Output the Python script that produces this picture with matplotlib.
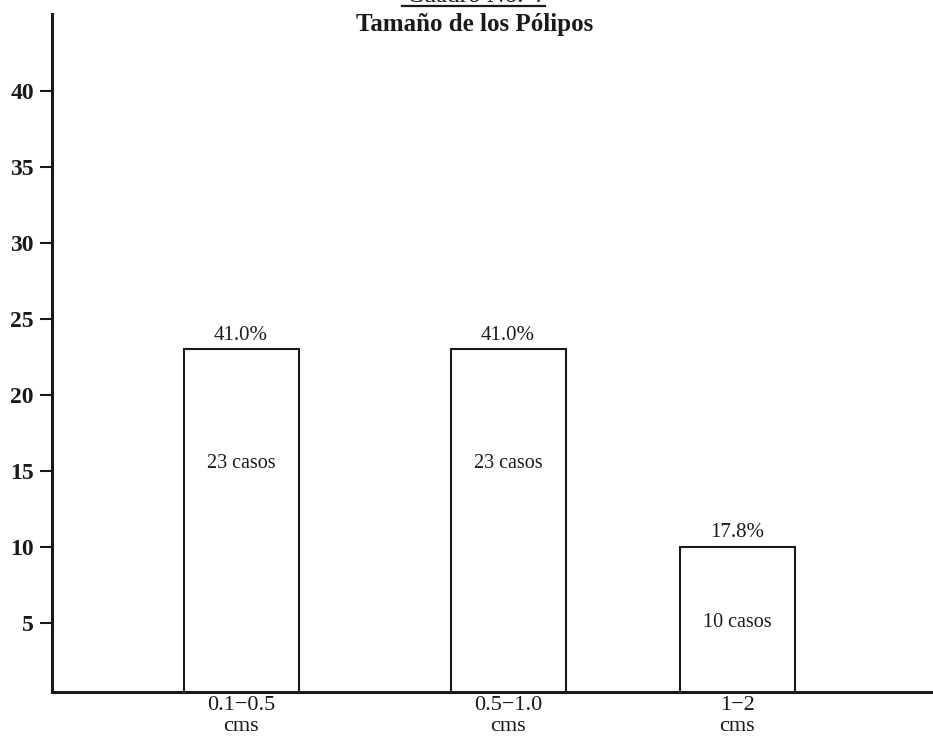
import matplotlib.pyplot as plt
from matplotlib.lines import Line2D

# Polyp size distribution (number of cases and share of the total)
categorias = ['0.1\u22120.5\ncms', '0.5\u22121.0\ncms', '1\u22122\ncms']
casos = [23, 23, 10]
porcentajes = ['41.0%', '41.0%', '17.8%']
yticks = [5, 10, 15, 20, 25, 30, 35, 40]

# bar centres along the axis (uneven spacing as in the printed table)
posiciones = [189, 456, 685]
ancho = 115
y_texto = [15.5, 15.5, 5.0]

plt.rcParams['font.family'] = ['Liberation Serif', 'DejaVu Serif']
tinta = '#1a1a1a'

fig = plt.figure(figsize=(9.33, 7.39), dpi=100)
ax = fig.add_axes([52 / 933, 47 / 739, 1 - 52 / 933, (692 - 14) / 739])

ax.bar(posiciones, casos, width=ancho, facecolor='white', edgecolor=tinta,
       linewidth=1.5)

for x, v, p, ty in zip(posiciones, casos, porcentajes, y_texto):
    ax.text(x, v + 0.3, p, ha='center', va='bottom', fontsize=15, color=tinta)
    ax.text(x, ty, f'{v} casos', ha='center', va='center', fontsize=14.5,
            color=tinta)

ax.set_xlim(0, 881)
ax.set_ylim(0.46, 45.07)
ax.set_yticks(yticks)
ax.set_yticklabels([str(t) for t in yticks], fontsize=17, fontweight='bold',
                   color=tinta)
ax.tick_params(axis='y', direction='out', length=9, width=1.5, pad=4,
               color=tinta)

ax.set_xticks(posiciones)
ax.set_xticklabels(categorias, fontsize=16, color=tinta, linespacing=1.15)
ax.tick_params(axis='x', length=0, pad=3)

for s in ['top', 'right']:
    ax.spines[s].set_visible(False)
for s in ['left', 'bottom']:
    ax.spines[s].set_linewidth(2.2)
    ax.spines[s].set_color(tinta)

# table heading, the first line runs off the top of the page
fig.text(475 / 933, 1 + 4 / 739, 'Cuadro No. 4', ha='center', va='center',
         fontsize=18, color=tinta)
fig.add_artist(Line2D([402 / 933, 545 / 933], [1 - 6 / 739, 1 - 6 / 739],
                      transform=fig.transFigure, color=tinta, linewidth=1.6))
fig.text(475 / 933, 1 - 24 / 739, 'Tamaño de los Pólipos', ha='center',
         va='center', fontsize=18, fontweight='bold', color=tinta)

fig.savefig('out.png', dpi=100, facecolor='white')
